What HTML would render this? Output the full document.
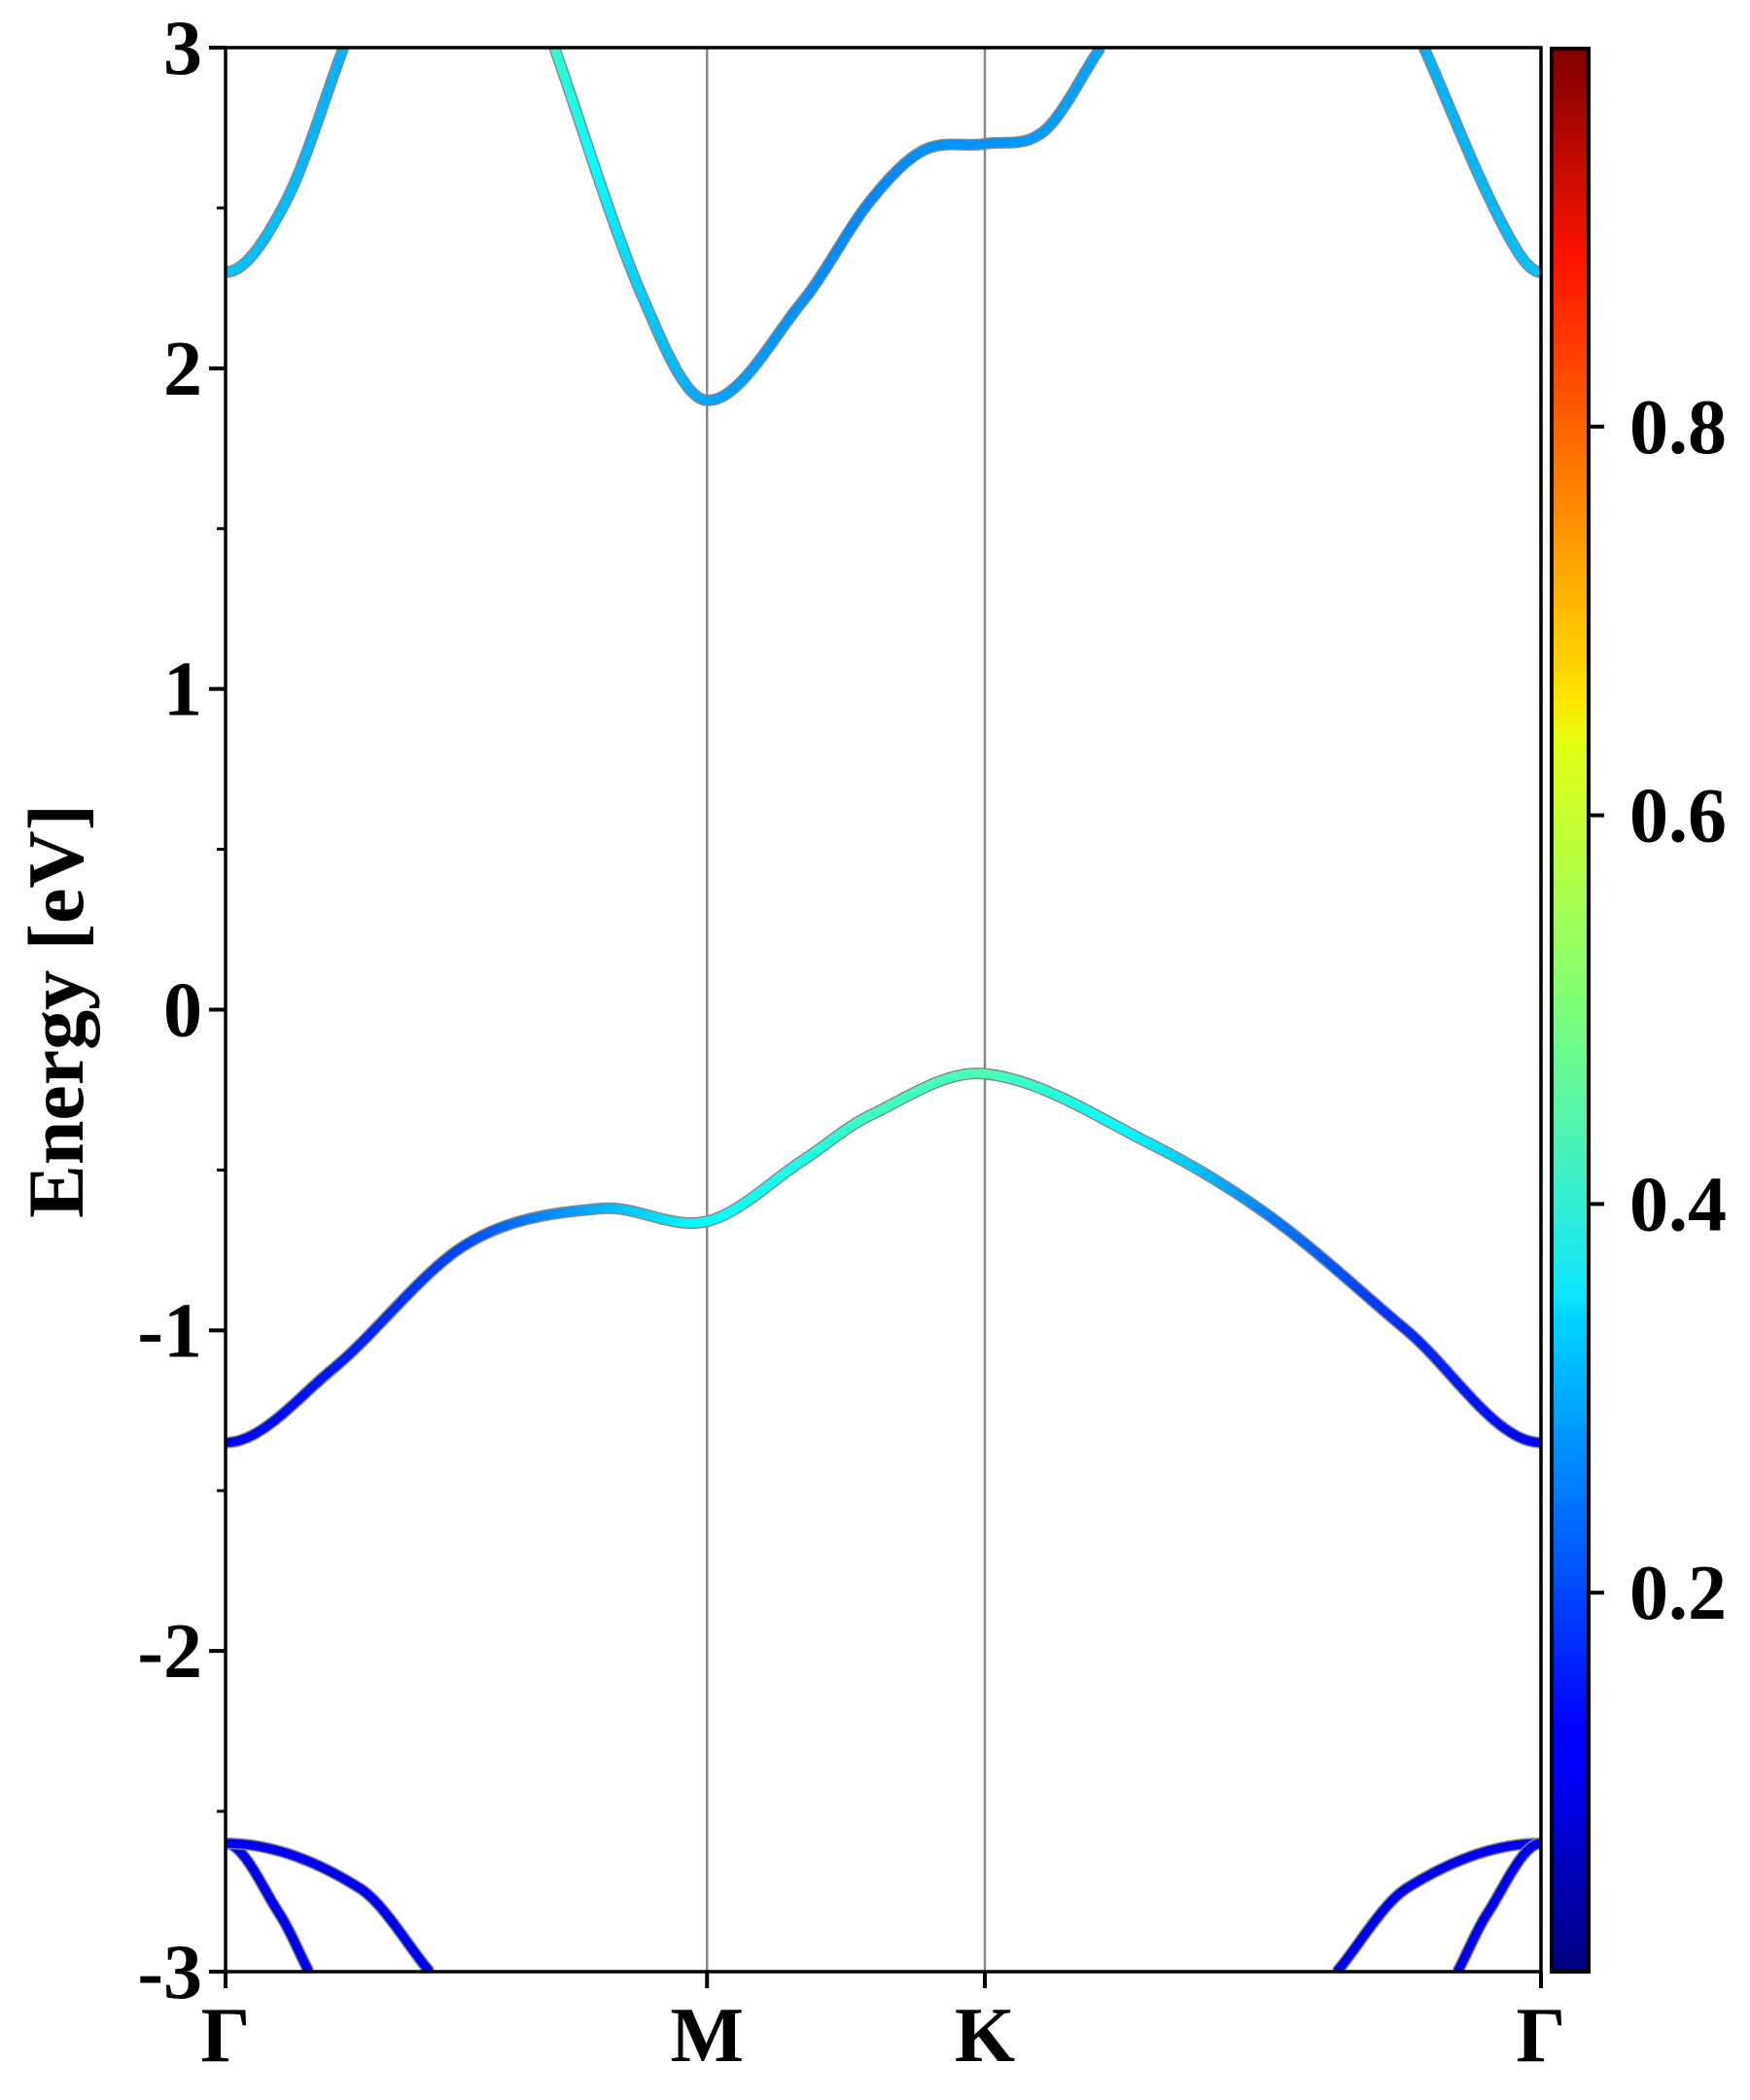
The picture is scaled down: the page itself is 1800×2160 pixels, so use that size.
<!DOCTYPE html>
<html><head><meta charset="utf-8"><style>
html,body{margin:0;padding:0;background:#fff;}
svg{display:block;}
text{font-family:"Liberation Serif",serif;font-weight:bold;}
</style></head><body>
<svg id="chart" width="1800" height="2160" viewBox="0 0 1800 2160">
<defs>
<linearGradient id="jet" x1="0" y1="1" x2="0" y2="0">
<stop offset="0" stop-color="#00007f"/><stop offset="0.11" stop-color="#0000ff"/><stop offset="0.125" stop-color="#0000ff"/>
<stop offset="0.34" stop-color="#00d4ff"/><stop offset="0.35" stop-color="#0de5ff"/><stop offset="0.5" stop-color="#7cff79"/>
<stop offset="0.64" stop-color="#e4ff12"/><stop offset="0.66" stop-color="#ffe600"/><stop offset="0.89" stop-color="#ff1300"/><stop offset="1" stop-color="#7f0000"/>
</linearGradient>
<clipPath id="plotclip"><rect x="232" y="49" width="1353" height="1979"/></clipPath>
</defs>
<g id="grid"></g>
<g id="bands" clip-path="url(#plotclip)"></g>
<rect x="232" y="49" width="1353" height="1979" fill="none" stroke="#000" stroke-width="3.5"/>
<g id="axes"></g>
<rect x="1596" y="50" width="38" height="1978" fill="url(#jet)" stroke="#000" stroke-width="4"/>
<g id="cbticks"></g>
<text transform="translate(85,1040) rotate(-90)" text-anchor="middle" font-size="82">Energy [eV]</text>
</svg>
<script>
// Data
const kLabels = ["Γ","M","K","Γ"];
const kPositions = [0, 1, 1.577, 2.732];
const yTicks = [-3,-2,-1,0,1,2,3];
const yMinorTicks = [-2.5,-1.5,-0.5,0.5,1.5,2.5];
const cbTicks = [0.2,0.4,0.6,0.8];
const cbRange = [0.005, 0.995];
// bands: k, energy, weight
const bandValenceK = [0, 0.223, 0.502, 0.78, 1, 1.199, 1.338, 1.577, 1.923, 2.174, 2.453, 2.732];
const bandValenceE = [-1.35, -1.12, -0.73, -0.62, -0.66, -0.47, -0.33, -0.2, -0.42, -0.65, -1.0, -1.35];
const bandValenceW = [0.13, 0.15, 0.2, 0.3, 0.38, 0.40, 0.43, 0.45, 0.36, 0.25, 0.17, 0.13];
const bandC1K = [0, 0.125, 0.245];
const bandC1E = [2.3, 2.52, 3.0];
const bandC1W = [0.32, 0.31, 0.3];
const bandC2K = [0.683, 0.864, 1, 1.199, 1.338, 1.45, 1.577, 1.70, 1.817];
const bandC2E = [3.0, 2.23, 1.9, 2.21, 2.52, 2.68, 2.7, 2.74, 3.0];
const bandC2W = [0.42, 0.33, 0.29, 0.27, 0.26, 0.27, 0.27, 0.28, 0.29];
const bandC3K = [2.489, 2.648, 2.732];
const bandC3E = [3.0, 2.46, 2.3];
const bandC3W = [0.3, 0.31, 0.32];
const bandV2K = [0, 0.112, 0.173];
const bandV2E = [-2.6, -2.82, -3.0];
const bandV3K = [0, 0.279, 0.424];
const bandV3E = [-2.6, -2.74, -3.0];
const bandV4K = [2.308, 2.453, 2.732];
const bandV4E = [-3.0, -2.74, -2.6];
const bandV5K = [2.559, 2.62, 2.732];
const bandV5E = [-3.0, -2.82, -2.6];
const deepW = [0.12, 0.12, 0.12];

const NS="http://www.w3.org/2000/svg";
const X0=232,X1=1585,Y0=49,Y1=2028;
function xs(k){return X0+(k-kPositions[0])/(kPositions[3]-kPositions[0])*(X1-X0);}
function ys(e){return Y0+(3-e)/6*(Y1-Y0);}
function jet(v){
  v=(v-cbRange[0])/(cbRange[1]-cbRange[0]);
  const c=t=>Math.round(255*Math.max(0,Math.min(1,t)));
  const r=c(Math.min(4*v-1.5,-4*v+4.5)),g=c(Math.min(4*v-0.5,-4*v+3.5)),b=c(Math.min(4*v+0.5,-4*v+2.5));
  return `rgb(${r},${g},${b})`;
}
function el(tag,attrs,parent){const e=document.createElementNS(NS,tag);for(const a in attrs)e.setAttribute(a,attrs[a]);parent.appendChild(e);return e;}
function isGamma(k){return Math.abs(k-kPositions[0])<1e-6||Math.abs(k-kPositions[3])<1e-6;}
function tangents(K,E){
  const n=K.length,m=new Array(n);
  for(let i=1;i<n-1;i++)m[i]=(E[i+1]-E[i-1])/(K[i+1]-K[i-1]);
  m[0]=isGamma(K[0])?0:(E[1]-E[0])/(K[1]-K[0]);
  m[n-1]=isGamma(K[n-1])?0:(E[n-1]-E[n-2])/(K[n-1]-K[n-2]);
  return m;
}
function sample(K,E,W){
  const m=tangents(K,E),pts=[];
  for(let i=0;i<K.length-1;i++){const h=K[i+1]-K[i];
    for(let j=0;j<40;j++){const t=j/40,t2=t*t,t3=t2*t;
      const e=(2*t3-3*t2+1)*E[i]+(t3-2*t2+t)*h*m[i]+(-2*t3+3*t2)*E[i+1]+(t3-t2)*h*m[i+1];
      pts.push([K[i]+t*h,e,W[i]+(W[i+1]-W[i])*t]);}}
  const L=K.length-1;pts.push([K[L],E[L],W[L]]);return pts;
}
const bandsG=document.getElementById('bands');
function drawBand(K,E,W,name){
  const g=el('g',{},bandsG);
  
  
  const pts=sample(K,E,W);
  const d=pts.map((p,i)=>(i?'L':'M')+xs(p[0]).toFixed(1)+','+ys(p[1]).toFixed(1)).join('');
  el('path',{d:d,fill:'none',stroke:'#888','stroke-width':12,'stroke-linejoin':'round'},g);
  for(let i=0;i<pts.length-1;i++){
    const a=pts[i],b=pts[i+1];
    const s=el('line',{x1:xs(a[0]),y1:ys(a[1]),x2:xs(b[0]),y2:ys(b[1]),stroke:jet((a[2]+b[2])/2),'stroke-width':9,'stroke-linecap':'round'},g);
    
    
  }
}
const grid=document.getElementById('grid');
[1,2].forEach(i=>{const l=el('line',{x1:xs(kPositions[i]),x2:xs(kPositions[i]),y1:Y0,y2:Y1,stroke:'#888','stroke-width':2.5},grid);
  
  });
drawBand(bandV2K,bandV2E,deepW,'band-v2');
drawBand(bandV3K,bandV3E,deepW,'band-v3');
drawBand(bandV4K,bandV4E,deepW,'band-v4');
drawBand(bandV5K,bandV5E,deepW,'band-v5');
drawBand(bandValenceK,bandValenceE,bandValenceW,'valence-band');
drawBand(bandC1K,bandC1E,bandC1W,'conduction-band-left');
drawBand(bandC2K,bandC2E,bandC2W,'conduction-band-middle');
drawBand(bandC3K,bandC3E,bandC3W,'conduction-band-right');
const ax=document.getElementById('axes');
yTicks.forEach(v=>{
  el('line',{x1:X0-17,x2:X0,y1:ys(v),y2:ys(v),stroke:'#000','stroke-width':4},ax);
  const t=el('text',{x:X0-24,y:ys(v)+27,'text-anchor':'end','font-size':80},ax);
  t.textContent=v;
  
  
});
yMinorTicks.forEach(v=>{el('line',{x1:X0-9,x2:X0,y1:ys(v),y2:ys(v),stroke:'#000','stroke-width':3},ax);});
kPositions.forEach((k,i)=>{
  el('line',{x1:xs(k),x2:xs(k),y1:Y1,y2:Y1+17,stroke:'#000','stroke-width':4},ax);
  const t=el('text',{x:xs(k),y:Y1+92,'text-anchor':'middle','font-size':80},ax);
  t.textContent=kLabels[i];
  
  
});
const cb=document.getElementById('cbticks');
cbTicks.forEach(v=>{
  const y=Y1-(v-cbRange[0])/(cbRange[1]-cbRange[0])*(Y1-Y0);
  el('line',{x1:1634,x2:1650,y1:y,y2:y,stroke:'#000','stroke-width':4},cb);
  const t=el('text',{x:1676,y:y+27,'font-size':80},cb);
  t.textContent=v.toFixed(1);
  
  
});
</script>
</body></html>
